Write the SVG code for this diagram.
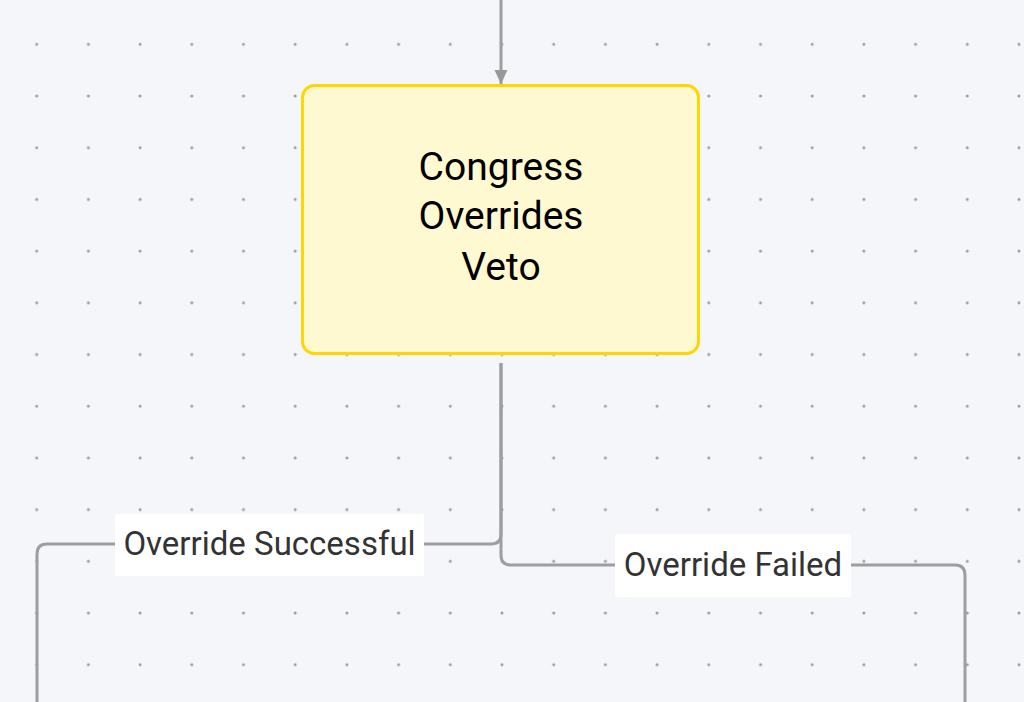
<svg xmlns="http://www.w3.org/2000/svg" width="1024" height="702" viewBox="0 0 1024 702">
<defs>
<pattern id="dots" x="36.7" y="44.3" width="51.7" height="51.7" patternUnits="userSpaceOnUse">
<circle cx="0" cy="0" r="1.5" fill="#9c9c9c"/>
<circle cx="51.7" cy="0" r="1.5" fill="#9c9c9c"/>
<circle cx="0" cy="51.7" r="1.5" fill="#9c9c9c"/>
<circle cx="51.7" cy="51.7" r="1.5" fill="#9c9c9c"/>
</pattern>
<marker id="arrow" viewBox="0 0 14 14" refX="14" refY="7" markerWidth="14" markerHeight="14" markerUnits="userSpaceOnUse" orient="auto">
<path d="M0,0.5 L14,7 L0,13.5 Z" fill="#999999"/>
</marker>
<style>
.edge{fill:none;stroke:#9e9e9e;stroke-width:3}
.lblbox{fill:#ffffff}
.lbl{font-family:Roboto,"Liberation Sans",sans-serif;font-size:33px;fill:#333333;text-anchor:middle}
.ntext{font-family:Roboto,"Liberation Sans",sans-serif;font-size:39px;fill:#000000;text-anchor:middle}
</style>
</defs>
<rect width="1024" height="702" fill="#f5f6fa"/>
<rect width="1024" height="702" fill="url(#dots)"/>
<g id="connectors">
<path class="edge" d="M501,0 V84" marker-end="url(#arrow)"/>
<path class="edge" d="M501,363 V534 Q501,544 491,544 H47 Q37,544 37,554 V702"/>
<path class="edge" d="M501,363 V555 Q501,565 511,565 H955 Q965,565 965,575 V702"/>
<g id="label-success">
<rect class="lblbox" x="115" y="514" width="309" height="62" rx="2"/>
<text class="lbl" x="269.5" y="555">Override Successful</text>
</g>
<g id="label-failed">
<rect class="lblbox" x="615" y="534" width="236" height="63" rx="2"/>
<text class="lbl" x="733" y="576">Override Failed</text>
</g>
</g>
<g id="node-congress">
<rect x="302.5" y="85.5" width="396" height="268" rx="12" fill="#fff9d1" stroke="#ffd600" stroke-width="3"/>
<text class="ntext" x="501" y="180">Congress</text>
<text class="ntext" x="501" y="229">Overrides</text>
<text class="ntext" x="501" y="280">Veto</text>
</g>
</svg>
